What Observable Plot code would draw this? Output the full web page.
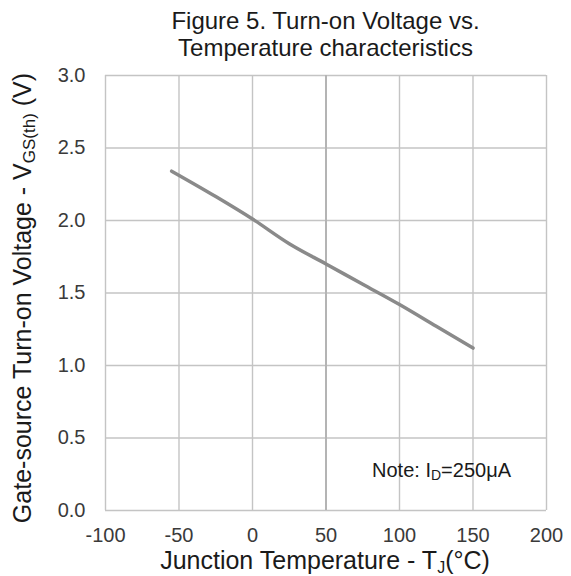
<!DOCTYPE html>
<html><head><meta charset="utf-8">
<script src="https://cdn.jsdelivr.net/npm/d3@7"></script>
<script src="https://cdn.jsdelivr.net/npm/@observablehq/plot@0.6"></script>
<style>
body{margin:0;background:#fff;font-family:"Liberation Sans",Arial,sans-serif;}
#title{width:571px;height:62px;box-sizing:border-box;padding-top:7px;padding-left:80px;text-align:center;font-size:24px;line-height:27px;color:#1a1a1a;white-space:nowrap;}
</style></head>
<body>
<div id="title">Figure 5. Turn-on Voltage vs.<br>Temperature characteristics</div>
<div id="chart"></div>
<script>
const tempC = [-55, -25, 0, 25, 50, 75, 100, 125, 150];
const vgsth = [2.34, 2.165, 2.01, 1.84, 1.70, 1.56, 1.42, 1.27, 1.12];
const xTicks = [-100, -50, 0, 50, 100, 150, 200];
const yTicks = [0, 0.5, 1.0, 1.5, 2.0, 2.5, 3.0];

const data = tempC.map((t, i) => ({t, v: vgsth[i]}));

const plot = Plot.plot({
  width: 571, height: 514,
  marginLeft: 105, marginRight: 25, marginTop: 13, marginBottom: 66,
  style: {fontFamily: '"Liberation Sans", Arial, sans-serif', fontSize: "20px", color: "#3a3a3a", overflow: "visible"},
  x: {domain: [-100, 200], ticks: xTicks, tickSize: 0, tickPadding: 17, tickFormat: d => String(d), label: null},
  y: {domain: [0, 3], ticks: yTicks, tickSize: 0, tickPadding: 20, tickFormat: d3.format(".1f"), label: null},
  marks: [
    Plot.gridX(xTicks, {stroke: "#c4c4c4", strokeOpacity: 1, strokeWidth: 1.4}),
    Plot.gridY(yTicks, {stroke: "#c4c4c4", strokeOpacity: 1, strokeWidth: 1.4}),
    Plot.gridX([50], {stroke: "#b4b4b4", strokeOpacity: 1, strokeWidth: 2}),
    Plot.line(data, {x: "t", y: "v", stroke: "#8a8a8a", strokeWidth: 3.5, curve: "monotone-x"})
  ]
});
document.getElementById("chart").appendChild(plot);

const svg = d3.select(plot);
const font = '"Liberation Sans", Arial, sans-serif';

// x axis label
const xl = svg.append("text")
  .attr("x", 325)
  .attr("y", 507)
  .attr("text-anchor", "middle")
  .attr("font-family", font).attr("font-size", "25px").attr("fill", "#1a1a1a");
xl.append("tspan").text("Junction Temperature - T");
xl.append("tspan").attr("font-size", "16px").attr("dy", "4").text("J");
xl.append("tspan").attr("dy", "-4").text("(°C)");

// y axis label
const ycx = 31, ycy = 298 - 62;
const yl = svg.append("text")
  .attr("transform", `translate(${ycx},${ycy}) rotate(-90)`)
  .attr("text-anchor", "middle")
  .attr("font-family", font).attr("font-size", "25px").attr("fill", "#1a1a1a");
yl.append("tspan").text("Gate-source Turn-on Voltage - V");
yl.append("tspan").attr("font-size", "17px").attr("dy", "4").text("GS(th)");
yl.append("tspan").attr("dy", "-4").text(" (V)");

// note
const nt = svg.append("text")
  .attr("x", 511)
  .attr("y", 477 - 62)
  .attr("text-anchor", "end")
  .attr("font-family", font).attr("font-size", "20px").attr("fill", "#1a1a1a");
nt.append("tspan").text("Note: I");
nt.append("tspan").attr("font-size", "14px").attr("dy", "3").text("D");
nt.append("tspan").attr("dy", "-3").text("=250μA");
</script>
</body></html>
